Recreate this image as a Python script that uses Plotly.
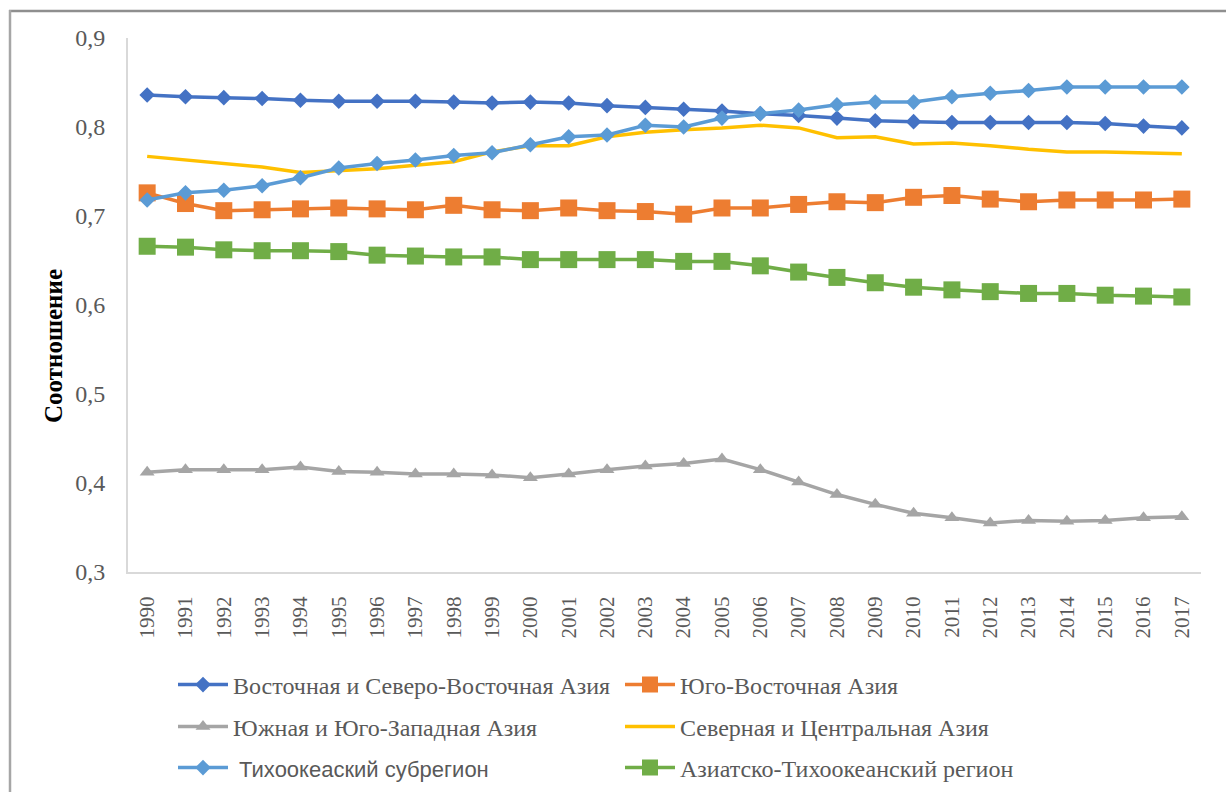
import plotly.graph_objects as go

years = [str(y) for y in range(1990, 2018)]

east_ne_asia = [0.836, 0.834, 0.833, 0.832, 0.830, 0.829, 0.829, 0.829, 0.828, 0.827,
                0.828, 0.827, 0.824, 0.822, 0.820, 0.818, 0.815, 0.813, 0.810, 0.807,
                0.806, 0.805, 0.805, 0.805, 0.805, 0.804, 0.801, 0.799]
southeast_asia = [0.726, 0.714, 0.706, 0.707, 0.708, 0.709, 0.708, 0.707, 0.712, 0.707,
                  0.706, 0.709, 0.706, 0.705, 0.702, 0.709, 0.709, 0.713, 0.716, 0.715,
                  0.721, 0.723, 0.719, 0.716, 0.718, 0.718, 0.718, 0.719]
south_sw_asia = [0.412, 0.415, 0.415, 0.415, 0.418, 0.413, 0.412, 0.410, 0.410, 0.409,
                 0.406, 0.410, 0.415, 0.419, 0.422, 0.427, 0.415, 0.401, 0.387, 0.376,
                 0.366, 0.361, 0.355, 0.358, 0.357, 0.358, 0.361, 0.362]
north_central_asia = [0.767, 0.763, 0.759, 0.755, 0.749, 0.751, 0.753, 0.757, 0.761, 0.772,
                      0.779, 0.779, 0.789, 0.794, 0.797, 0.799, 0.802, 0.799, 0.788, 0.789,
                      0.781, 0.782, 0.779, 0.775, 0.772, 0.772, 0.771, 0.770]
pacific = [0.718, 0.726, 0.729, 0.734, 0.743, 0.754, 0.759, 0.763, 0.768, 0.771,
           0.780, 0.789, 0.791, 0.802, 0.800, 0.810, 0.815, 0.819, 0.825, 0.828,
           0.828, 0.834, 0.838, 0.841, 0.845, 0.845, 0.845, 0.845]
asia_pacific = [0.666, 0.665, 0.662, 0.661, 0.661, 0.660, 0.656, 0.655, 0.654, 0.654,
                0.651, 0.651, 0.651, 0.651, 0.649, 0.649, 0.644, 0.637, 0.631, 0.625,
                0.620, 0.617, 0.615, 0.613, 0.613, 0.611, 0.610, 0.609]

names = [
    "Восточная и Северо-Восточная Азия",
    "Юго-Восточная Азия",
    "Южная и Юго-Западная Азия",
    "Северная и Центральная Азия",
    '<span style="font-family:Liberation Sans;font-size:22px"> Тихоокеаский субрегион</span>',
    "Азиатско-Тихоокеанский регион",
]
series = [east_ne_asia, southeast_asia, south_sw_asia, north_central_asia, pacific, asia_pacific]
colors = ["#4472C4", "#ED7D31", "#A5A5A5", "#FFC000", "#5B9BD5", "#70AD47"]
symbols = ["diamond", "square", "triangle-up", None, "diamond", "square"]
msizes = [12, 17, 13, 0, 12, 17]
legend_ids = ["legend", "legend", "legend2", "legend2", "legend3", "legend3"]

fig = go.Figure()
for name, vals, col, sym, ms, lg in zip(names, series, colors, symbols, msizes, legend_ids):
    if sym is None:
        fig.add_trace(go.Scatter(x=years, y=vals, name=name, mode="lines", legend=lg,
                                 line=dict(color=col, width=3.5)))
    else:
        fig.add_trace(go.Scatter(x=years, y=vals, name=name, mode="lines+markers", legend=lg,
                                 line=dict(color=col, width=3.5),
                                 marker=dict(symbol=sym, size=ms, color=col,
                                             line=dict(width=0))))

L, R, T, B = 128, 26, 38, 221
W, H = 1227, 793
pw, ph = W - L - R, H - T - B


def px_x(x):
    return (x - L) / pw


def px_y(y):
    return (H - B - y) / ph


def legend_row(yc):
    return dict(
        orientation="h",
        x=px_x(173), xanchor="left",
        y=px_y(yc), yanchor="middle",
        entrywidth=382, entrywidthmode="pixels",
        font=dict(family="Liberation Serif", size=24, color="#595959"),
        itemwidth=50,
        bgcolor="rgba(0,0,0,0)",
    )


fig.update_layout(
    width=W, height=H,
    margin=dict(l=L, r=R, t=T, b=B, autoexpand=False),
    paper_bgcolor="white", plot_bgcolor="white",
    separators=", ",
    font=dict(family="Liberation Serif", color="#595959"),
    showlegend=True,
    legend=legend_row(685),
    legend2=legend_row(727),
    legend3=legend_row(768),
    xaxis=dict(
        type="category",
        range=[-0.5, 27.5],
        showline=True, linecolor="#D9D9D9", linewidth=2,
        showgrid=False, zeroline=False,
        ticks="", tickangle=-90,
        tickfont=dict(family="Liberation Serif", size=21, color="#595959"),
        ticklabelstandoff=14,
    ),
    yaxis=dict(
        range=[0.3, 0.9],
        tickvals=[0.3, 0.4, 0.5, 0.6, 0.7, 0.8, 0.9],
        tickformat=".1f",
        showline=True, linecolor="#D9D9D9", linewidth=2,
        showgrid=False, zeroline=False,
        ticks="",
        tickfont=dict(family="Liberation Serif", size=24, color="#595959"),
        ticklabelstandoff=16,
    ),
    annotations=[dict(text="<b>Соотношение</b>", textangle=-90,
                      xref="paper", yref="paper",
                      x=px_x(53), y=px_y(346),
                      xanchor="center", yanchor="middle", showarrow=False,
                      font=dict(family="Liberation Serif", size=25, color="black"))],
    shapes=[
        dict(type="line", xref="paper", yref="paper",
             x0=px_x(9), x1=px_x(1226), y0=px_y(11), y1=px_y(11),
             line=dict(color="#8F8F8F", width=2.5)),
        dict(type="line", xref="paper", yref="paper",
             x0=px_x(10), x1=px_x(10), y0=px_y(10), y1=px_y(792),
             line=dict(color="#A6A6A6", width=2.5)),
    ],
)

fig.write_html("out.html", config={"displayModeBar": False},
               post_script="document.body.style.margin='0';")
